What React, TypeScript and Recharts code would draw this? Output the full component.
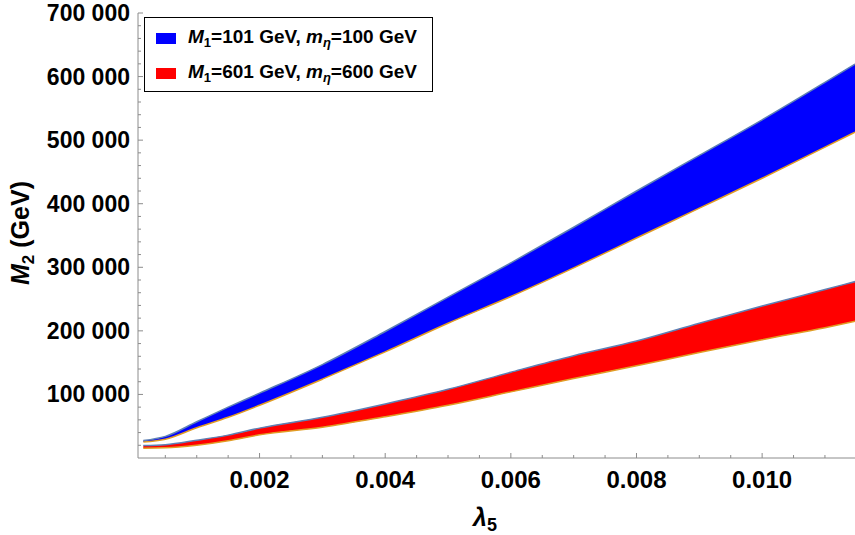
import { ComposedChart, Area, Line, XAxis, YAxis } from 'recharts';

// λ5 sample points and M2 band edges (GeV)
const lambda5 = [0.00015, 0.0005, 0.001, 0.0015, 0.002, 0.003, 0.004, 0.005, 0.006, 0.007, 0.008, 0.009, 0.01, 0.011, 0.01148];
const blueUpper = [27500, 34000, 57000, 80000, 102000, 147000, 199000, 253000, 307000, 363000, 420000, 476000, 532000, 591000, 619700];
const blueLower = [25000, 29500, 47500, 64000, 83000, 124000, 167000, 212000, 254000, 299000, 346000, 393000, 440000, 489000, 512600];
const redUpper = [19500, 21000, 28000, 36000, 47000, 64000, 85000, 108000, 135000, 161000, 184000, 212000, 239000, 265000, 277500];
const redLower = [15500, 16000, 20000, 27000, 36500, 48500, 65000, 83000, 104000, 125000, 145000, 166000, 186000, 205000, 215000];

const xMajorTicks = [0.002, 0.004, 0.006, 0.008, 0.01];
const xMajorLabels = ['0.002', '0.004', '0.006', '0.008', '0.010'];
const yMajorTicks = [100000, 200000, 300000, 400000, 500000, 600000, 700000];
const yMajorLabels = ['100 000', '200 000', '300 000', '400 000', '500 000', '600 000', '700 000'];

const xTicks = Array.from({ length: 23 }, (_, i) => +((i + 1) * 0.0005).toFixed(4));
const yTicks = Array.from({ length: 35 }, (_, i) => (i + 1) * 20000);

const data = lambda5.map((l, i) => ({
  lambda: l,
  blue: [blueLower[i], blueUpper[i]],
  red: [redLower[i], redUpper[i]],
  bu: blueUpper[i],
  bl: blueLower[i],
  ru: redUpper[i],
  rl: redLower[i],
}));

const FONT = '"Liberation Sans", Arial, Helvetica, sans-serif';
const FRAME = '#8c8c8c';
const UPPER_EDGE = '#5e81b5';
const LOWER_EDGE = '#e19c24';

const xLabel = (v: number) => {
  const i = xMajorTicks.findIndex((t) => Math.abs(t - v) < 1e-9);
  return i >= 0 ? xMajorLabels[i] : null;
};
const yLabel = (v: number) => {
  const i = yMajorTicks.indexOf(v);
  return i >= 0 ? yMajorLabels[i] : null;
};

function BottomTick(props: any) {
  const { x, y, payload } = props;
  const label = xLabel(payload.value);
  return (
    <g>
      <line x1={x} x2={x} y1={y} y2={y - (label ? 5 : 3)} stroke={FRAME} />
      {label && (
        <text x={x} y={y + 30} textAnchor="middle" fontFamily={FONT} fontWeight="bold" fontSize={24} fill="#000">
          {label}
        </text>
      )}
    </g>
  );
}

function TopTick(props: any) {
  const { x, y, payload } = props;
  const major = xLabel(payload.value) !== null;
  return <line x1={x} x2={x} y1={y} y2={y + (major ? 5 : 3)} stroke={FRAME} />;
}

function LeftTick(props: any) {
  const { x, y, payload } = props;
  const label = yLabel(payload.value);
  return (
    <g>
      <line x1={x} x2={x + (label ? 5 : 3)} y1={y} y2={y} stroke={FRAME} />
      {label && (
        <text x={x - 8} y={y + 8} textAnchor="end" fontFamily={FONT} fontWeight="bold" fontSize={23} fill="#000">
          {label}
        </text>
      )}
    </g>
  );
}

function RightTick(props: any) {
  const { x, y, payload } = props;
  const major = yLabel(payload.value) !== null;
  return <line x1={x} x2={x - (major ? 6 : 3)} y1={y} y2={y} stroke={FRAME} />;
}

export default function App() {
  return (
    <div style={{ position: 'absolute', left: 0, top: 0, width: 855, height: 535, overflow: 'hidden', background: '#fff' }}>
      <ComposedChart width={860} height={535} data={data} margin={{ top: 13, right: 1, bottom: 0, left: 0 }}>
        <XAxis
          xAxisId="b"
          type="number"
          dataKey="lambda"
          domain={[0.000065, 0.011542]}
          allowDataOverflow
          ticks={xTicks}
          interval={0}
          height={77}
          tickSize={0}
          tickMargin={0}
          tickLine={false}
          axisLine={{ stroke: FRAME }}
          tick={(p: any) => <BottomTick {...p} />}
        />
        <XAxis
          xAxisId="t"
          orientation="top"
          type="number"
          dataKey="lambda"
          domain={[0.000065, 0.011542]}
          allowDataOverflow
          ticks={xTicks}
          interval={0}
          height={0}
          tickSize={0}
          tickMargin={0}
          tickLine={false}
          axisLine={{ stroke: FRAME }}
          tick={(p: any) => <TopTick {...p} />}
        />
        <YAxis
          yAxisId="l"
          type="number"
          domain={[0, 700000]}
          allowDataOverflow
          ticks={yTicks}
          interval={0}
          width={138}
          tickSize={0}
          tickMargin={0}
          tickLine={false}
          axisLine={{ stroke: FRAME }}
          tick={(p: any) => <LeftTick {...p} />}
        />
        <YAxis
          yAxisId="r"
          orientation="right"
          type="number"
          domain={[0, 700000]}
          allowDataOverflow
          ticks={yTicks}
          interval={0}
          width={0}
          tickSize={0}
          tickMargin={0}
          tickLine={false}
          axisLine={{ stroke: FRAME }}
          tick={(p: any) => <RightTick {...p} />}
        />
        <Area xAxisId="b" yAxisId="l" type="monotone" dataKey="blue" fill="#0000ff" fillOpacity={1} stroke="none" isAnimationActive={false} />
        <Area xAxisId="b" yAxisId="l" type="monotone" dataKey="red" fill="#ff0000" fillOpacity={1} stroke="none" isAnimationActive={false} />
        <Line xAxisId="b" yAxisId="l" type="monotone" dataKey="bu" stroke={UPPER_EDGE} strokeWidth={1.5} dot={false} isAnimationActive={false} />
        <Line xAxisId="b" yAxisId="l" type="monotone" dataKey="bl" stroke={LOWER_EDGE} strokeWidth={1.5} dot={false} isAnimationActive={false} />
        <Line xAxisId="b" yAxisId="l" type="monotone" dataKey="ru" stroke={UPPER_EDGE} strokeWidth={1.5} dot={false} isAnimationActive={false} />
        <Line xAxisId="b" yAxisId="l" type="monotone" dataKey="rl" stroke={LOWER_EDGE} strokeWidth={1.5} dot={false} isAnimationActive={false} />
      </ComposedChart>

      {/* legend */}
      <div
        style={{
          position: 'absolute',
          left: 144,
          top: 17,
          width: 287,
          height: 73,
          border: '1px solid #000',
          background: '#fff',
          fontFamily: FONT,
          fontWeight: 'bold',
          fontSize: 19,
          color: '#000',
        }}
      >
        {[
          { color: '#0000ff', m1: '101', meta: '100' },
          { color: '#ff0000', m1: '601', meta: '600' },
        ].map((e, i) => (
          <div key={i} style={{ position: 'absolute', left: 0, top: 6 + i * 35, height: 28, display: 'flex', alignItems: 'center', whiteSpace: 'nowrap' }}>
            <span style={{ display: 'inline-block', width: 20, height: 11, background: e.color, marginLeft: 11, marginRight: 12 }} />
            <span>
              <i>M</i>
              <sub style={{ fontSize: 13, verticalAlign: -4 }}>1</sub>={e.m1} GeV, <i>m</i>
              <sub style={{ fontSize: 13, verticalAlign: -4 }}><i>η</i></sub>={e.meta} GeV
            </span>
          </div>
        ))}
      </div>

      {/* axis titles */}
      <div
        style={{
          position: 'absolute',
          left: 485,
          top: 503,
          transform: 'translateX(-50%)',
          fontFamily: FONT,
          fontWeight: 'bold',
          fontSize: 25,
          lineHeight: '28px',
          whiteSpace: 'nowrap',
        }}
      >
        <i>λ</i>
        <sub style={{ fontSize: 18, verticalAlign: -5 }}>5</sub>
      </div>
      <div
        style={{
          position: 'absolute',
          left: 24,
          top: 233,
          transform: 'translate(-50%, -50%) rotate(-90deg)',
          fontFamily: FONT,
          fontWeight: 'bold',
          fontSize: 25,
          lineHeight: '28px',
          whiteSpace: 'nowrap',
        }}
      >
        <i>M</i>
        <sub style={{ fontSize: 17, verticalAlign: -5 }}>2</sub> (GeV)
      </div>
    </div>
  );
}
